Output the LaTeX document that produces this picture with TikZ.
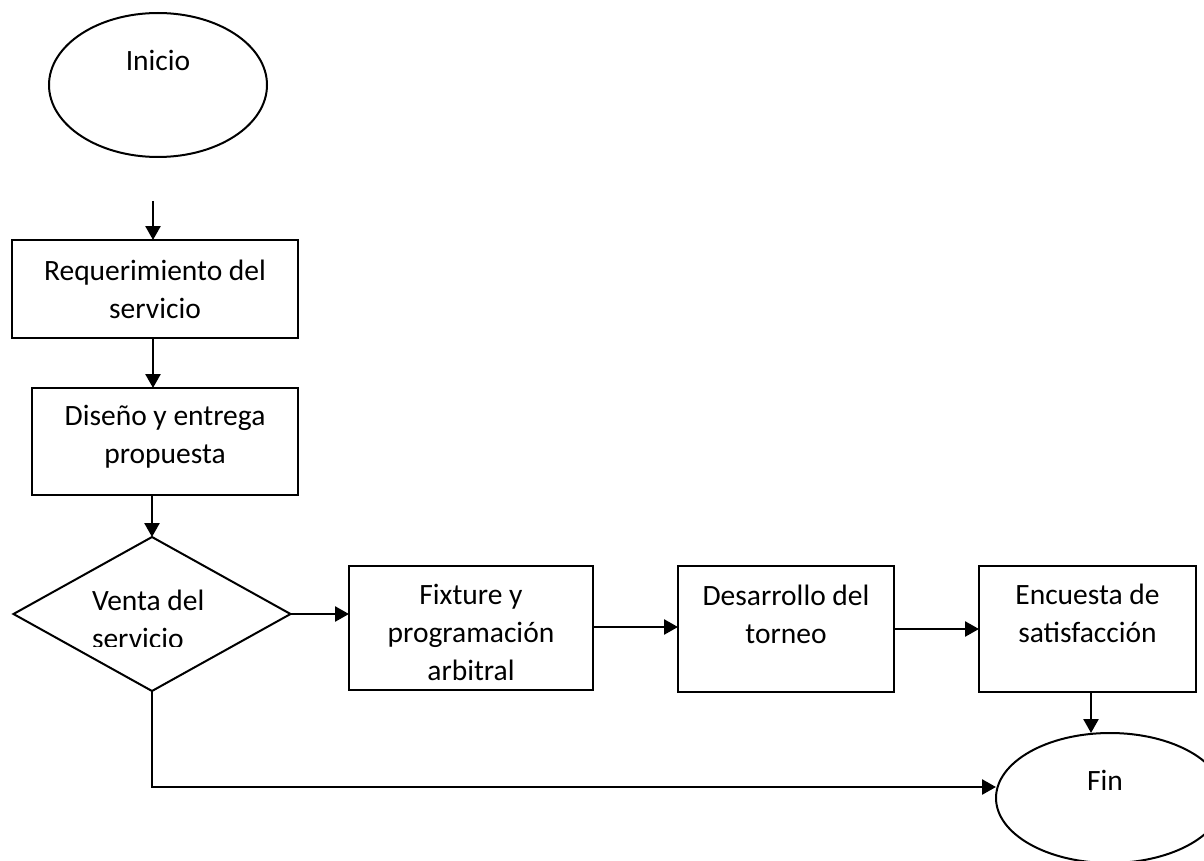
\documentclass[tikz,border=0pt]{standalone}
\usepackage{fontspec}
\setmainfont{Carlito}
\usetikzlibrary{shapes.geometric,arrows.meta}
\begin{document}
\begin{tikzpicture}[x=1pt,y=-1pt,
  every node/.style={inner sep=0pt, outer sep=0pt},
  proc/.style={draw, rectangle, line width=2.4pt},
  term/.style={draw, ellipse, line width=2pt},
  decis/.style={draw, diamond, line width=2pt},
  lbl/.style={font=\fontsize{29.5}{38}\selectfont, align=center, anchor=base},
  arr/.style={-{Triangle[length=14pt,width=15pt]}, line width=2.6pt}]
\useasboundingbox (0,0) rectangle (1204,861);
% shapes
\node[term, minimum width=218, minimum height=144] (ini) at (158,85) {};
\node[proc, minimum width=286, minimum height=98] (b1) at (155,289) {};
\node[proc, minimum width=266, minimum height=107] (b2) at (165,441.5) {};
\node[decis, minimum width=277, minimum height=154] (dia) at (152,614) {};
\node[proc, minimum width=244, minimum height=124] (b3) at (471,628) {};
\node[proc, minimum width=216, minimum height=126] (b4) at (786,629) {};
\node[proc, minimum width=217, minimum height=126] (b5) at (1087.5,629) {};
\node[term, minimum width=228, minimum height=130] (fin) at (1110,798) {};
% texts (base = baseline of last line)
\node[lbl] (tini) at (158,71) {Inicio};
\node[lbl] (t1) at (155,318) {Requerimiento del\\servicio};
\node[lbl] (t2) at (165,463) {Diseño y entrega\\propuesta};
\begin{scope}
\clip (0,560) rectangle (300,646);
\node[lbl, align=left, anchor=base west] (td) at (92,648) {Venta del\\servicio};
\end{scope}
\node[lbl] (t3) at (471,680) {Fixture y\\programación\\arbitral};
\node[lbl] (t4) at (786,643) {Desarrollo del\\torneo};
\node[lbl] (t5) at (1087.5,642) {Encuesta de\\satisfacción};
\node[lbl] (tfin) at (1105,790) {Fin};
% connectors
\coordinate (s0) at (153,201);
\draw[arr] (s0) -- (s0 |- b1.north);
\draw[arr] (b1.south -| s0) -- (s0 |- b2.north);
\draw[arr] (b2.south -| dia.north) -- (dia.north);
\draw[arr] (dia.east) -- (dia.east -| b3.west);
\draw[arr] ([yshift=1pt]b3.east) -- ([yshift=1pt]b3.east -| b4.west);
\draw[arr] (b4.east) -- (b4.east -| b5.west);
\draw[arr] (b5.south -| 1091,0) -- (1091,733);
\draw[arr] (dia.south) |- ([yshift=11pt]fin.west);
\end{tikzpicture}
\end{document}
